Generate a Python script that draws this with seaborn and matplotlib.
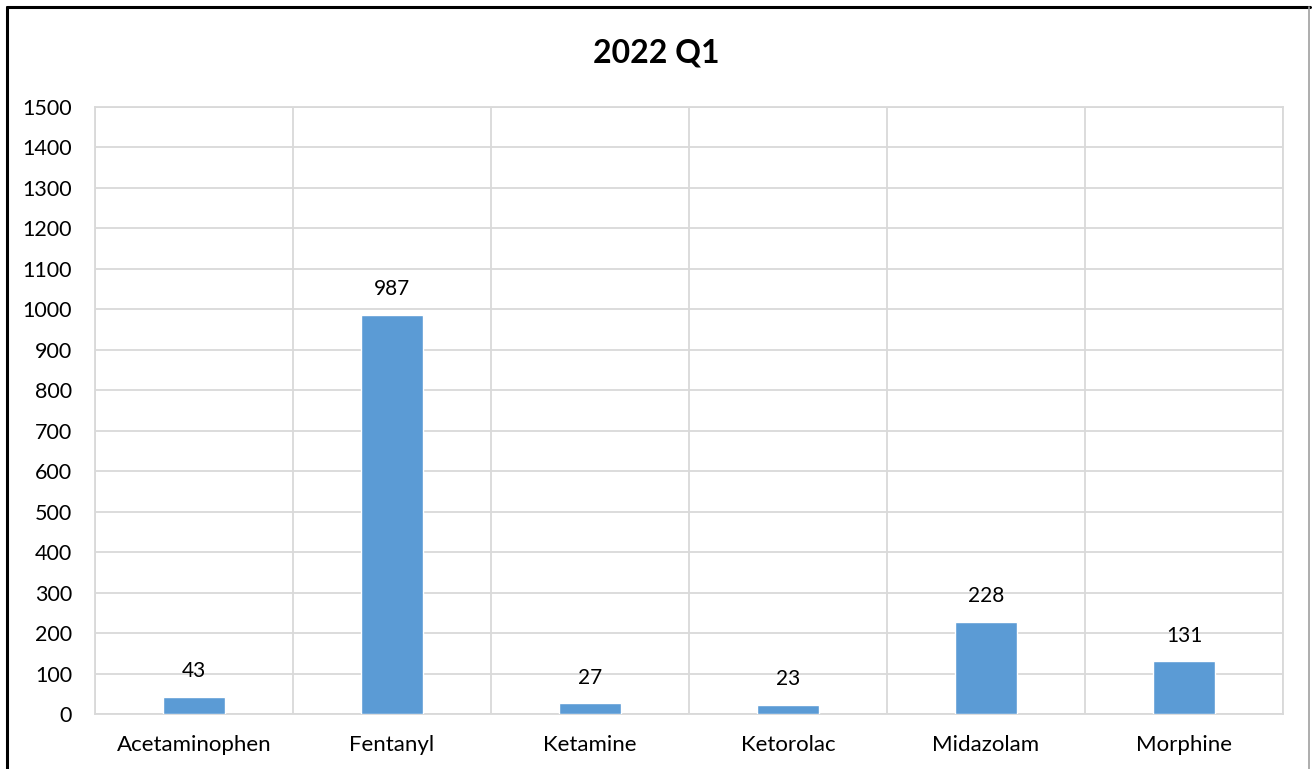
import matplotlib
matplotlib.use("Agg")
import matplotlib.pyplot as plt
import seaborn as sns
import pandas as pd
from matplotlib.lines import Line2D

drugs = ["Acetaminophen", "Fentanyl", "Ketamine", "Ketorolac", "Midazolam", "Morphine"]
counts = [43, 987, 27, 23, 228, 131]
y_ticks = list(range(0, 1501, 100))
title = "2022 Q1"

sns.set_theme(style="white")
plt.rcParams["font.family"] = ["Lato", "DejaVu Sans"]

df = pd.DataFrame({"drug": drugs, "count": counts})

fig = plt.figure(figsize=(13.12, 7.69), dpi=100)
ax = fig.add_axes([0.0724, 0.0715, 0.9055, 0.7894])

sns.barplot(data=df, x="drug", y="count", color="#5B9BD5", saturation=1,
            width=0.313, ax=ax, zorder=3)

grid_c = "#D9D9D9"
ax.set_ylim(0, 1500)
ax.set_xlim(-0.5, len(drugs) - 0.5)
ax.set_yticks(y_ticks)
ax.set_yticklabels([str(t) for t in y_ticks])
ax.yaxis.grid(True, color=grid_c, linewidth=1.3, zorder=0)
for i in range(len(drugs) + 1):
    ax.axvline(i - 0.5, color=grid_c, linewidth=1.3, zorder=0)
for s in ax.spines.values():
    s.set_color(grid_c)
    s.set_linewidth(1.3)

ax.tick_params(axis="both", length=0, colors="#000000")
ax.tick_params(axis="y", pad=16.5, labelsize=15.5)
ax.tick_params(axis="x", pad=15, labelsize=16)
ax.set_xlabel("")
ax.set_ylabel("")

for i, v in enumerate(counts):
    ax.annotate(str(v), (i, v), xytext=(0, 11), textcoords="offset points",
                ha="center", va="bottom", fontsize=15, color="#000000")

fig.text(0.5, 0.931, title, ha="center", va="center", fontsize=23,
         fontweight="bold", color="#000000")

# frame around the chart
fig.add_artist(Line2D([0.0057, 0.0057], [0, 0.991], color="black", linewidth=2.2,
                      transform=fig.transFigure))
fig.add_artist(Line2D([0.0057, 0.9985], [0.991, 0.991], color="black", linewidth=2.2,
                      transform=fig.transFigure))
fig.add_artist(Line2D([0.998, 0.998], [0, 0.991], color="#A0A0A0", linewidth=1.2,
                      transform=fig.transFigure))

fig.savefig("out.png", dpi=100, facecolor="white")
